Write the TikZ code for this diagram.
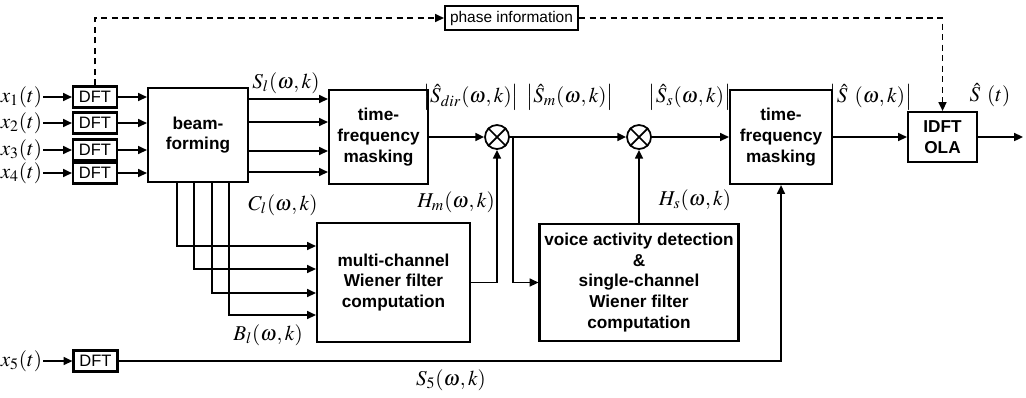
\documentclass[tikz,border=0pt]{standalone}
\usepackage{mathptmx}
\usepackage[no-math]{fontspec}
\newfontfamily\blockfont{Liberation Sans}
\usetikzlibrary{arrows.meta, positioning, calc}

\begin{document}
\begin{tikzpicture}[
    x=0.02cm,
    y=-0.02cm,
    line width=1pt,
    >={Triangle[length=5pt,width=4.5pt]},
    block/.style={draw, line width=1.2pt, align=center, inner sep=0pt, font=\blockfont\bfseries\fontsize{9.8}{11.8}\selectfont},
    dftbox/.style={draw, line width=1.2pt, minimum width=0.88cm, minimum height=0.42cm, inner sep=0pt, font=\blockfont\fontsize{9.4}{10}\selectfont},
    lbl/.style={font=\fontsize{12}{14}\selectfont, inner sep=0pt},
    mult/.style={draw, circle, minimum size=0.48cm, inner sep=0pt},
    phaseline/.style={dashed, dash pattern=on 3.5pt off 2.5pt}
]
\useasboundingbox (0,0) rectangle (1026,397);

% Blocks
\node[block, minimum width=2.0cm, minimum height=1.88cm] (bf) at (198,135) {beam-\\forming};
\node[block, minimum width=1.98cm, minimum height=1.88cm] (tfm1) at (378.5,137) {time-\\frequency\\masking};
\node[block, minimum width=3.06cm, minimum height=2.38cm] (mcwf) at (393.5,282.5) {multi-channel\\Wiener filter\\computation};
\node[block, minimum width=3.98cm, minimum height=2.34cm] (vad) at (639,282.5) {voice activity detection\\\&\\single-channel\\Wiener filter\\computation};
\node[block, minimum width=2.04cm, minimum height=1.88cm] (tfm2) at (781,137) {time-\\frequency\\masking};
\node[block, minimum width=1.38cm, minimum height=1.0cm] (idft) at (942.5,137) {IDFT\\OLA};
\node[draw, line width=1.2pt, minimum width=2.66cm, minimum height=0.48cm, inner sep=0pt, font=\blockfont\fontsize{8.8}{10}\selectfont] (phase) at (511.5,18) {phase information};

% Multipliers
\node[mult] (m1) at (497,137) {};
\node[mult] (m2) at (639,137) {};
\foreach \m in {m1, m2} {
    \draw (\m.north west) -- (\m.south east);
    \draw (\m.north east) -- (\m.south west);
}

% Microphone inputs
\foreach \i/\y in {1/97, 2/123, 3/150, 4/173} {
    \node[lbl, anchor=east] (x\i) at (43,\y) {$x_{\i}(t)$};
    \node[dftbox] (dft\i) at (95,\y) {DFT};
    \draw[->] (x\i) -- (dft\i);
    \draw[->] (dft\i.east) -- (dft\i -| bf.west);
}
\node[lbl, anchor=east] (x5) at (43,361) {$x_5(t)$};
\node[dftbox] (dft5) at (95.5,361) {DFT};
\draw[->] (x5) -- (dft5);

% Beamformer outputs
\foreach \y in {99, 122, 151, 172} {
    \draw[->] (bf.east |- 0,\y) -- (tfm1.west |- 0,\y);
}
\foreach \x/\y in {177/246, 194/269, 212/293, 229/315} {
    \draw[->] (bf.south -| \x,0) |- (mcwf.west |- 0,\y);
}

% Signal path
\coordinate (br) at (513,137);
\coordinate (out) at (1023,137);
\draw[->] (tfm1) -- (m1);
\draw[->] (m1) -- (m2);
\draw[->] (m2) -- (tfm2);
\draw[->] (tfm2) -- (idft);
\draw[->] (idft) -- (out);
\draw[->] (br) |- (vad.west);
\draw[->] (mcwf.east) -| (m1.south);
\draw[->] (vad.north) -- (m2.south);
\draw[->] (dft5.east) -| (tfm2.south);

% Phase path
\draw[phaseline, ->] (dft1.north) |- (phase.west);
\draw[phaseline, ->] (phase.east) -| (idft.north);

% Labels
\node[lbl] (sl) at (286,83) {$S_l(\omega,k)$};
\node[lbl] (cl) at (283,205) {$C_l(\omega,k)$};
\node[lbl] (bl) at (268,335) {$B_l(\omega,k)$};
\node[lbl] (sdir) at (471,97) {$\left|\hat{S}_{dir}(\omega,k)\right|$};
\node[lbl] (sm) at (570,97) {$\left|\hat{S}_m(\omega,k)\right|$};
\node[lbl] (ss) at (690,97) {$\left|\hat{S}_s(\omega,k)\right|$};
\node[lbl] (hm) at (456,202) {$H_m(\omega,k)$};
\node[lbl] (hs) at (695,200) {$H_s(\omega,k)$};
\node[lbl] (s5) at (451,380) {$S_5(\omega,k)$};
\node[lbl] (shat) at (871,97) {$\left|\hat{S}\ (\omega,k)\right|$};
\node[lbl] (st) at (990,95) {$\hat{S}\ (t)$};

\end{tikzpicture}
\end{document}
